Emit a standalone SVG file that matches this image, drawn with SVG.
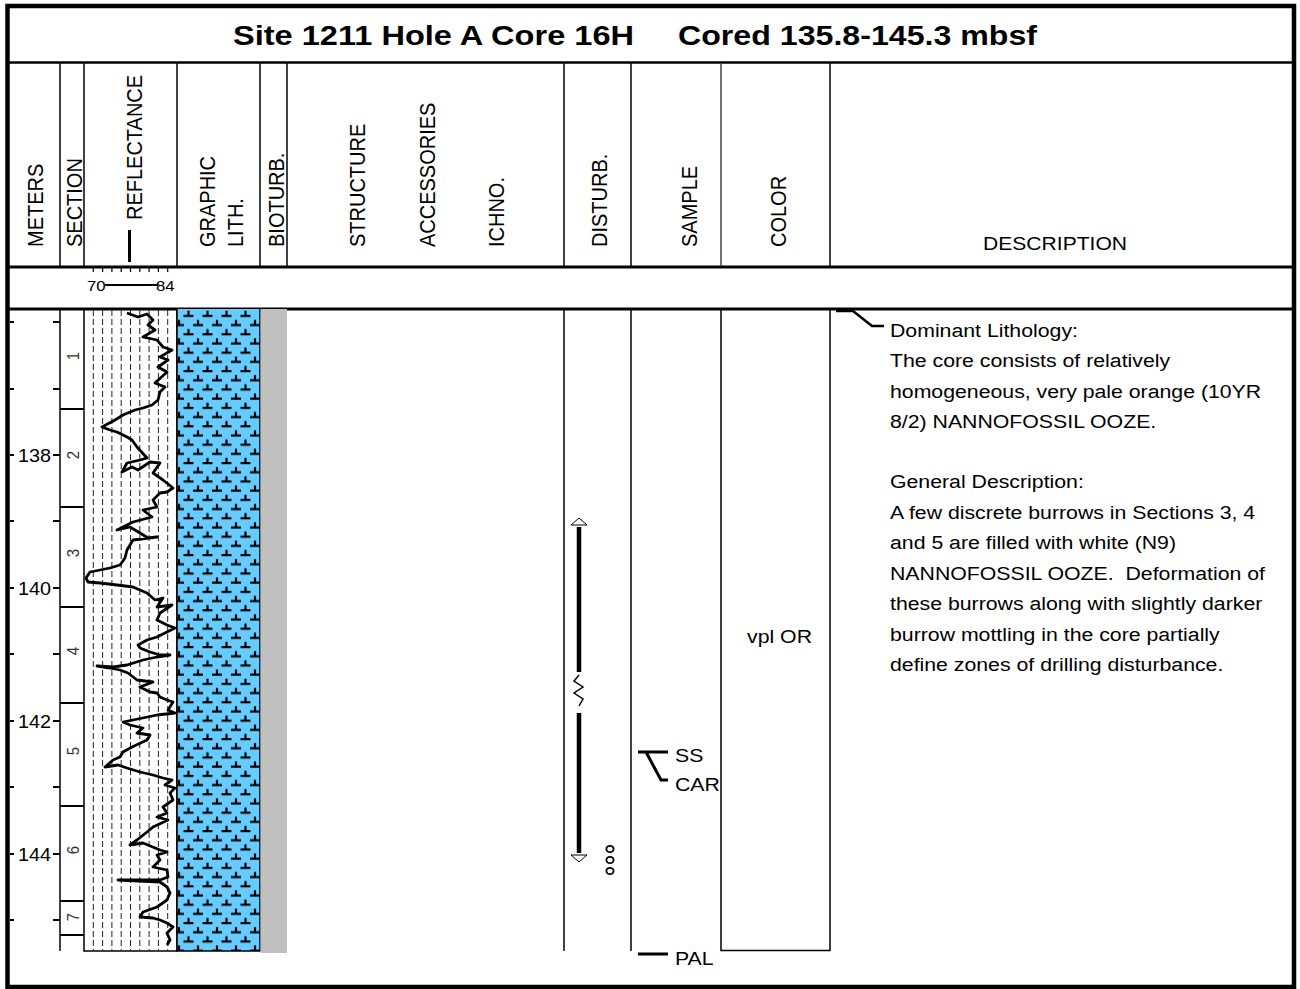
<svg xmlns="http://www.w3.org/2000/svg" width="1300" height="989" viewBox="0 0 1300 989">
<style>
.t{font-family:"Liberation Sans",Arial,sans-serif;fill:#000}
.hd{font-size:20px}
.ds{font-size:19px}
.sm{font-size:18px}
.sec{font-size:15px;fill:#333}
.ln{stroke:#000;fill:none}
.grid{stroke:#222;stroke-width:1;stroke-dasharray:6,3}
</style>
<defs>
<pattern id="nanno" patternUnits="userSpaceOnUse" x="177" y="309" width="19" height="18.4">
<rect width="19" height="18.4" fill="#66CCFF"/>
<path d="M6.5,6.8h10M11.5,6.8v-5M-3,16h10M2,16v-5M16,16h10M21,16v-5" stroke="#000" stroke-width="2.2" fill="none"/>
</pattern>
</defs>
<rect width="1300" height="989" fill="#fff"/>

<g id="frame">
<rect x="7.5" y="6" width="1286.5" height="981" class="ln" stroke-width="4.5"/>
<line x1="7" y1="62.5" x2="1294" y2="62.5" class="ln" stroke-width="2.5"/>
<line x1="7" y1="267" x2="1294" y2="267" class="ln" stroke-width="3"/>
<line x1="7" y1="309" x2="1294" y2="309" class="ln" stroke-width="3"/>
</g>

<g id="title">
<text class="t" font-weight="bold" font-size="28" x="233" y="45" textLength="401" lengthAdjust="spacingAndGlyphs">Site 1211 Hole A Core 16H</text>
<text class="t" font-weight="bold" font-size="28" x="678" y="45" textLength="359" lengthAdjust="spacingAndGlyphs">Cored 135.8-145.3 mbsf</text>
</g>

<g id="header">
<g class="ln" stroke-width="1.5">
<line x1="60" y1="63" x2="60" y2="266"/>
<line x1="84" y1="63" x2="84" y2="266"/>
<line x1="177" y1="63" x2="177" y2="266"/>
<line x1="260" y1="63" x2="260" y2="266"/>
<line x1="287" y1="63" x2="287" y2="266"/>
<line x1="564" y1="63" x2="564" y2="266"/>
<line x1="631" y1="63" x2="631" y2="266"/>
<line x1="721" y1="63" x2="721" y2="266" stroke="#444"/>
<line x1="830" y1="63" x2="830" y2="266"/>
</g>
<text class="t hd" transform="translate(43,247) scale(1.12,1) rotate(-90)">METERS</text>
<text class="t hd" transform="translate(82,247) scale(1.12,1) rotate(-90)">SECTION</text>
<text class="t hd" transform="translate(142,220) scale(1.12,1) rotate(-90)">REFLECTANCE</text>
<line x1="129.5" y1="230" x2="129.5" y2="262" class="ln" stroke-width="3"/>
<text class="t hd" transform="translate(215,247) scale(1.12,1) rotate(-90)">GRAPHIC</text>
<text class="t hd" transform="translate(243,247) scale(1.12,1) rotate(-90)">LITH.</text>
<text class="t hd" transform="translate(284,247) scale(1.12,1) rotate(-90)">BIOTURB.</text>
<text class="t hd" transform="translate(365,247) scale(1.12,1) rotate(-90)">STRUCTURE</text>
<text class="t hd" transform="translate(435,247) scale(1.12,1) rotate(-90)">ACCESSORIES</text>
<text class="t hd" transform="translate(504,247) scale(1.12,1) rotate(-90)">ICHNO.</text>
<text class="t hd" transform="translate(607,247) scale(1.12,1) rotate(-90)">DISTURB.</text>
<text class="t hd" transform="translate(697,247) scale(1.12,1) rotate(-90)">SAMPLE</text>
<text class="t hd" transform="translate(786,247) scale(1.12,1) rotate(-90)">COLOR</text>
<text class="t ds" transform="translate(983,250) scale(1.11,1)">DESCRIPTION</text>
</g>

<g id="scale-row">
<g class="ln" stroke-width="1.2">
<line x1="93.3" y1="268" x2="93.3" y2="272"/><line x1="102.6" y1="268" x2="102.6" y2="272"/>
<line x1="111.9" y1="268" x2="111.9" y2="272"/><line x1="121.2" y1="268" x2="121.2" y2="272"/>
<line x1="130.5" y1="268" x2="130.5" y2="272"/><line x1="139.8" y1="268" x2="139.8" y2="272"/>
<line x1="149.1" y1="268" x2="149.1" y2="272"/><line x1="158.4" y1="268" x2="158.4" y2="272"/>
<line x1="167.7" y1="268" x2="167.7" y2="272"/>
</g>
<text class="t" font-size="15" transform="translate(87,290.5) scale(1.12,1)">70</text>
<line x1="105" y1="285" x2="158" y2="285" class="ln" stroke-width="1.8"/>
<text class="t" font-size="15" transform="translate(156,290.5) scale(1.12,1)">84</text>
</g>

<g id="meters">
<g class="ln" stroke-width="2">
<line x1="10" y1="322" x2="14" y2="322"/><line x1="53" y1="322" x2="60" y2="322"/>
<line x1="10" y1="389" x2="14" y2="389"/><line x1="53" y1="389" x2="60" y2="389"/>
<line x1="10" y1="455" x2="14" y2="455"/><line x1="53" y1="455" x2="60" y2="455"/>
<line x1="10" y1="521" x2="14" y2="521"/><line x1="53" y1="521" x2="60" y2="521"/>
<line x1="10" y1="588" x2="14" y2="588"/><line x1="53" y1="588" x2="60" y2="588"/>
<line x1="10" y1="654" x2="14" y2="654"/><line x1="53" y1="654" x2="60" y2="654"/>
<line x1="10" y1="721" x2="14" y2="721"/><line x1="53" y1="721" x2="60" y2="721"/>
<line x1="10" y1="787" x2="14" y2="787"/><line x1="53" y1="787" x2="60" y2="787"/>
<line x1="10" y1="854" x2="14" y2="854"/><line x1="53" y1="854" x2="60" y2="854"/>
<line x1="10" y1="920" x2="14" y2="920"/><line x1="53" y1="920" x2="60" y2="920"/>
</g>
<text class="t sm" text-anchor="end" transform="translate(51,462) scale(1.1,1)">138</text>
<text class="t sm" text-anchor="end" transform="translate(51,595) scale(1.1,1)">140</text>
<text class="t sm" text-anchor="end" transform="translate(51,728) scale(1.1,1)">142</text>
<text class="t sm" text-anchor="end" transform="translate(51,861) scale(1.1,1)">144</text>
</g>

<g id="sections">
<line x1="60" y1="309" x2="60" y2="951" class="ln" stroke-width="1.5"/>
<g class="ln" stroke-width="2">
<line x1="60" y1="409" x2="84" y2="409"/>
<line x1="60" y1="507" x2="84" y2="507"/>
<line x1="60" y1="607" x2="84" y2="607"/>
<line x1="60" y1="703" x2="84" y2="703"/>
<line x1="60" y1="806" x2="84" y2="806"/>
<line x1="60" y1="901" x2="84" y2="901"/>
<line x1="60" y1="935" x2="84" y2="935"/>
</g>
<g class="t sec" text-anchor="middle">
<text transform="translate(79,356) scale(1.12,1) rotate(-90)">1</text>
<text transform="translate(79,455) scale(1.12,1) rotate(-90)">2</text>
<text transform="translate(79,553) scale(1.12,1) rotate(-90)">3</text>
<text transform="translate(79,651) scale(1.12,1) rotate(-90)">4</text>
<text transform="translate(79,751) scale(1.12,1) rotate(-90)">5</text>
<text transform="translate(79,850) scale(1.12,1) rotate(-90)">6</text>
<text transform="translate(79,917) scale(1.12,1) rotate(-90)">7</text>
</g>
</g>

<g id="reflectance">
<g class="grid">
<line x1="93.3" y1="310" x2="93.3" y2="950"/><line x1="102.6" y1="310" x2="102.6" y2="950"/>
<line x1="111.9" y1="310" x2="111.9" y2="950"/><line x1="121.2" y1="310" x2="121.2" y2="950"/>
<line x1="130.5" y1="310" x2="130.5" y2="950"/><line x1="139.8" y1="310" x2="139.8" y2="950"/>
<line x1="149.1" y1="310" x2="149.1" y2="950"/><line x1="158.4" y1="310" x2="158.4" y2="950"/>
<line x1="167.7" y1="310" x2="167.7" y2="950"/>
</g>
<polyline class="ln" stroke-width="2.8" stroke-linejoin="round" points="127,313 138,317 147,314 153,320 148,325 155,330 143,337 157,340 163,347 172,350 160,357 168,360 158,367 167,372 155,383 165,387 160,392 158,400 152,405 143,408 135,410 123,415 115,420 102,427 110,430 117,432 127,437 132,440 137,447 147,458 140,460 127,463 122,472 132,467 138,470 150,462 160,463 153,473 163,480 173,488 167,492 160,493 153,500 157,507 143,510 152,517 133,522 117,530 130,527 140,533 148,538 157,537 133,540 127,550 125,558 120,565 110,568 100,570 90,572 86,578 88,582 100,583 117,585 133,587 147,593 155,600 163,598 157,607 172,605 160,613 157,620 167,625 175,628 167,632 157,637 147,640 138,645 140,648 150,652 160,655 170,655 157,657 143,660 127,665 113,667 97,666 110,668 120,670 128,673 137,680 153,682 140,687 150,692 157,693 160,697 167,700 173,702 168,710 175,713 157,715 133,720 123,722 130,725 143,728 137,733 150,735 147,740 132,747 123,752 120,757 113,760 105,767 118,765 127,768 140,772 153,775 163,778 172,780 165,785 175,788 170,793 173,800 163,807 167,813 157,817 168,820 153,827 147,832 137,840 130,845 143,843 160,850 167,852 157,855 160,860 153,867 167,870 168,877 160,880 118,880 160,882 167,887 170,893 167,900 157,907 143,912 140,917 153,918 160,920 167,923 173,927 167,933 170,940 167,945"/>
<path d="M84,309V951H177V309" class="ln" stroke-width="1.5"/>
</g>

<g id="lithology">
<rect x="177" y="309" width="83" height="642" fill="url(#nanno)"/>
<path d="M177,309V951H260V309" class="ln" stroke-width="1.5"/>
</g>

<g id="bioturbation">
<rect x="260.5" y="309" width="26.5" height="644" fill="#C0C0C0"/>
</g>

<g id="disturbance">
<line x1="564" y1="309" x2="564" y2="951" class="ln" stroke-width="1.5"/>
<line x1="631" y1="309" x2="631" y2="951" class="ln" stroke-width="1.5"/>
<polygon points="579,518 571,525 587,525" fill="#fff" stroke="#000" stroke-width="1"/>
<line x1="579" y1="527" x2="579" y2="672" class="ln" stroke-width="4.5"/>
<polyline points="579,675 574,681 583,687 574,693 583,699 579,706" class="ln" stroke="#333" stroke-width="1.5"/>
<line x1="579" y1="713" x2="579" y2="853" class="ln" stroke-width="4.5"/>
<polygon points="571,855 587,855 579,862" fill="#fff" stroke="#000" stroke-width="1"/>
<g class="ln" stroke-width="1.8" stroke="#222">
<ellipse cx="610" cy="849" rx="3.6" ry="3.2"/>
<ellipse cx="610" cy="860" rx="3.6" ry="3.2"/>
<ellipse cx="610" cy="871" rx="3.6" ry="3.2"/>
</g>
</g>

<g id="samples">
<path d="M638,752H668M646,752L661,780H668M638,954H668" class="ln" stroke-width="3"/>
<text class="t ds" transform="translate(675,762) scale(1.12,1)">SS</text>
<text class="t ds" transform="translate(675,791) scale(1.12,1)">CAR</text>
<text class="t ds" transform="translate(675,965) scale(1.12,1)">PAL</text>
</g>

<g id="color">
<path d="M721,309V950.5H830V309" class="ln" stroke-width="1.5"/>
<text class="t ds" transform="translate(747,643) scale(1.12,1)">vpl OR</text>
</g>

<g id="connectors">
<path d="M836,311H853L872,326H884" class="ln" stroke-width="2.5"/>
</g>

<g id="description" class="t ds" transform="translate(890,0) scale(1.12,1)">
<text x="0" y="337">Dominant Lithology:</text>
<text x="0" y="367.5">The core consists of relatively</text>
<text x="0" y="398">homogeneous, very pale orange (10YR</text>
<text x="0" y="428.5">8/2) NANNOFOSSIL OOZE.</text>
<text x="0" y="488.5">General Description:</text>
<text x="0" y="519">A few discrete burrows in Sections 3, 4</text>
<text x="0" y="549.5">and 5 are filled with white (N9)</text>
<text x="0" y="580" xml:space="preserve">NANNOFOSSIL OOZE.  Deformation of</text>
<text x="0" y="610.5">these burrows along with slightly darker</text>
<text x="0" y="641">burrow mottling in the core partially</text>
<text x="0" y="671.5">define zones of drilling disturbance.</text>
</g>
</svg>
